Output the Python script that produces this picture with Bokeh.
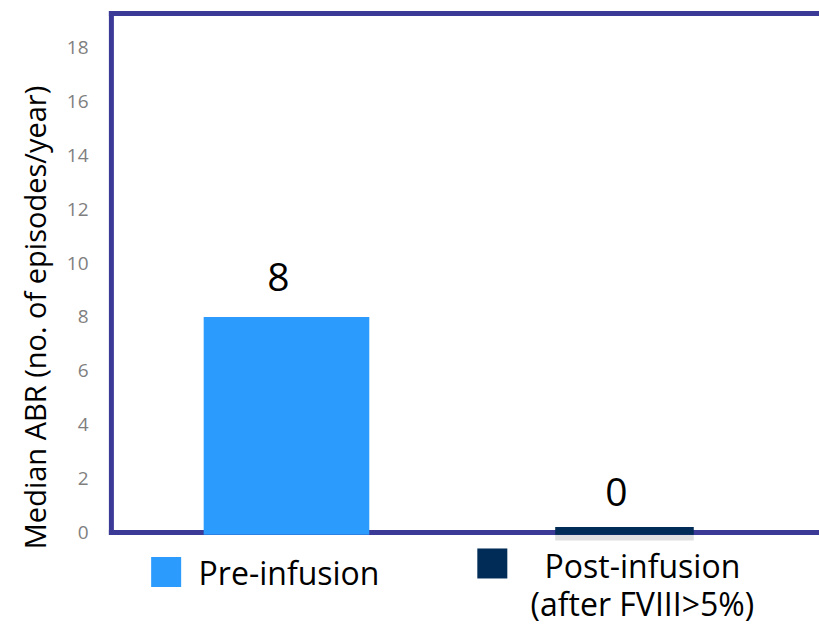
from bokeh.plotting import figure
from bokeh.models import FixedTicker, ColumnDataSource, Range1d
from bokeh.core.properties import value
from bokeh.embed import file_html
from bokeh.resources import INLINE

# ---- data ----
categories = ["Pre-infusion", "Post-infusion"]
median_abr = [8, 0]
value_labels = ["8", "0"]
y_ticks = [0, 2, 4, 6, 8, 10, 12, 14, 16, 18]
legend_texts = ["Pre-infusion", "Post-infusion"]
legend_second_line = "(after FVIII>5%)"
y_axis_title = "Median ABR (no. of episodes/year)"

# ---- layout / style ----
FONT = "Open Sans"
x_pos = [1, 2]
bar_widths = [0.49, 0.41]
bar_colors = ["#2b9bfe", "#002c57"]
shadow_alpha = [0.0, 0.12]
MIN_VISIBLE = 0.2          # zero-valued bar still shown as a thin sliver
FRAME_COLOR = "#3b3a96"
X0, X1 = 0.4675, 2.577
Y0, Y1 = -3.489, 19.448
FRAME_LEFT_X = 0.482
FRAME_TOP_Y = 19.262

tops = [max(v, MIN_VISIBLE) for v in median_abr]
src = ColumnDataSource(dict(x=x_pos, top=tops, w=bar_widths, c=bar_colors,
                            val=median_abr, lab=value_labels, sa=shadow_alpha))

p = figure(width=819, height=626, output_backend="svg", toolbar_location=None,
           x_range=Range1d(X0, X1), y_range=Range1d(Y0, Y1),
           x_axis_location=None, min_border_left=106, min_border_right=0,
           min_border_top=8, min_border_bottom=0)
p.outline_line_color = None
p.xgrid.visible = False
p.ygrid.visible = False
p.background_fill_color = "white"
p.border_fill_color = "white"

ax = p.yaxis[0]
ax.ticker = FixedTicker(ticks=y_ticks)
ax.axis_line_color = None
ax.major_tick_line_color = None
ax.minor_tick_line_color = None
ax.major_tick_out = 0
ax.major_tick_in = 0
ax.major_label_standoff = 18
ax.major_label_text_color = "#7f7f7f"
ax.major_label_text_font = FONT
ax.major_label_text_font_size = "19px"
ax.axis_label = y_axis_title
ax.axis_label_text_font = FONT
ax.axis_label_text_font_size = "29px"
ax.axis_label_text_font_style = "normal"
ax.axis_label_text_color = "black"
ax.axis_label_standoff = 10

# frame lines (left, top, bottom)
p.segment(x0=[FRAME_LEFT_X, FRAME_LEFT_X, FRAME_LEFT_X],
          y0=[0, FRAME_TOP_Y, 0],
          x1=[FRAME_LEFT_X, X1, X1],
          y1=[FRAME_TOP_Y, FRAME_TOP_Y, 0],
          line_color=FRAME_COLOR, line_width=5, line_cap="square")

# faint shadow beneath the thin bar
p.vbar(x="x", top=-0.08, bottom=-0.3, width="w", fill_color="#000000",
       fill_alpha="sa", line_color=None, source=src)

# bars
p.vbar(x="x", top="top", bottom=-0.08, width="w", fill_color="c",
       line_color=None, source=src)

# value labels
p.text(x="x", y="val", text="lab", source=src, text_align="center",
       text_baseline="alphabetic", x_offset=-8, y_offset=-40,
       text_font=value(FONT), text_font_size="39px", text_color="black")

# legend (manual)
p.rect(x=[0.644, 1.609], y=[-1.466, -1.15], width=30, height=30,
       width_units="screen", height_units="screen",
       fill_color=bar_colors, line_color=None)
p.text(x=[0.740], y=[-1.48], text=[legend_texts[0]], text_align="left",
       text_baseline="middle", text_font=value(FONT), text_font_size="32px",
       text_color="black")
p.text(x=[2.053, 2.053], y=[-1.22, -2.65],
       text=[legend_texts[1], legend_second_line], text_align="center",
       text_baseline="middle", text_font=value(FONT), text_font_size="32px",
       text_color="black")

open("out.html", "w").write(file_html(p, INLINE))
